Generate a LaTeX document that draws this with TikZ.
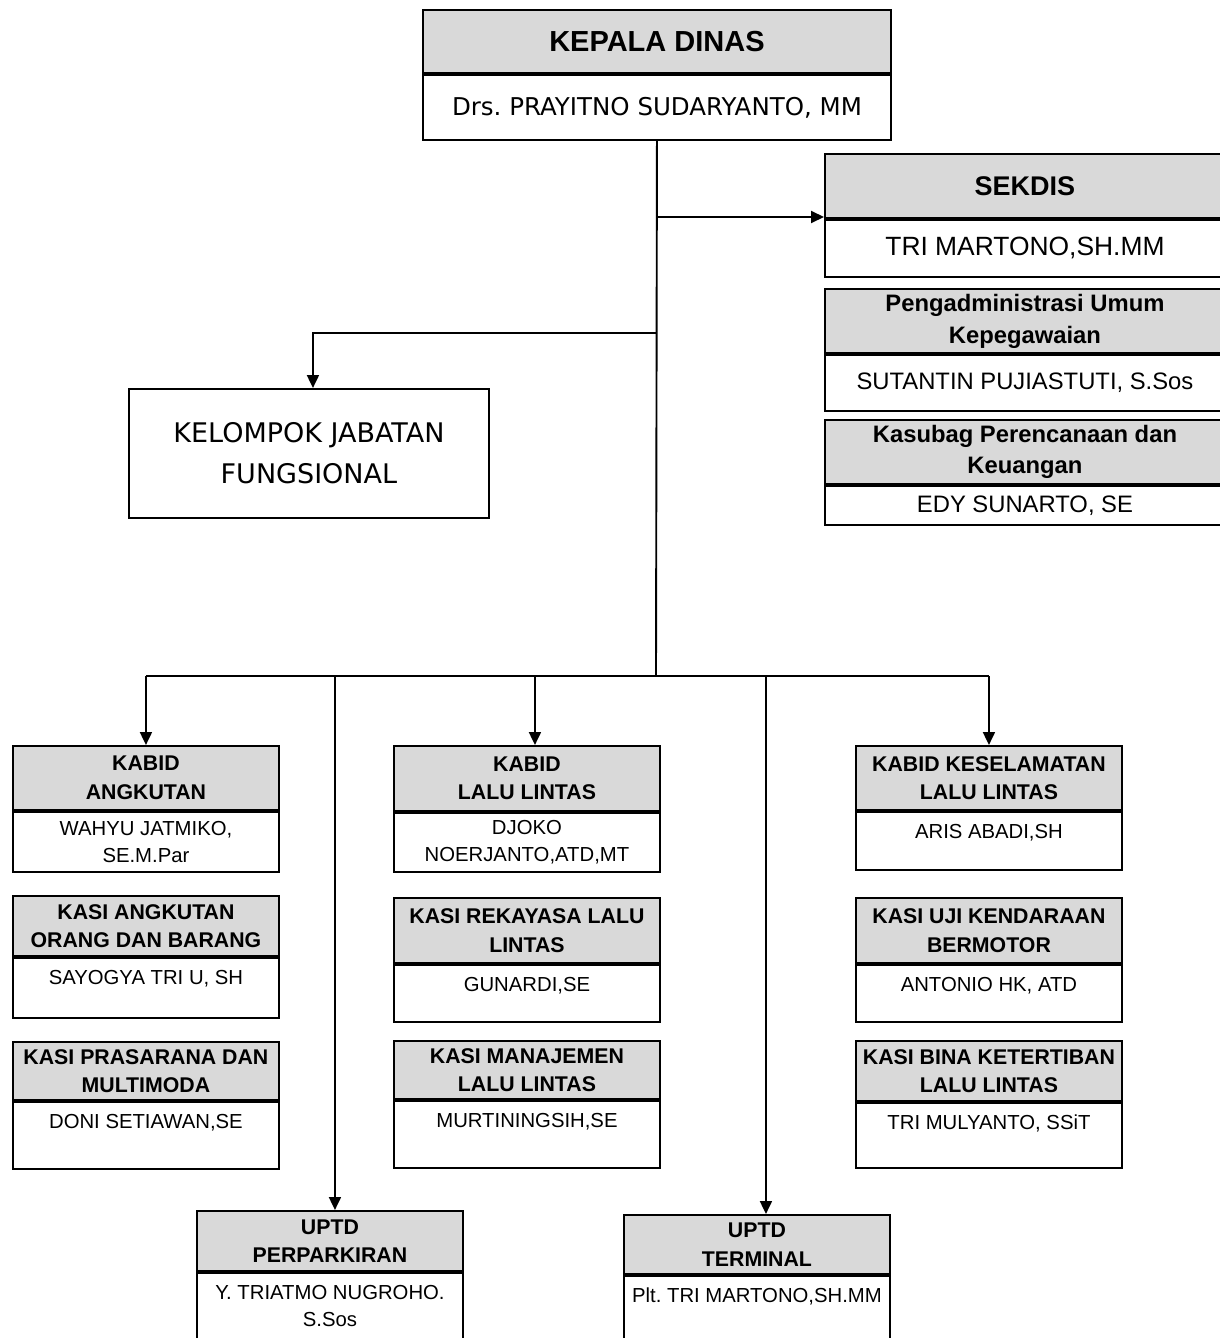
\documentclass[tikz,border=0pt]{standalone}
\usepackage{fontspec}
\setmainfont{Liberation Sans}
\newfontfamily\tahoma{DejaVu Sans}
\usetikzlibrary{arrows.meta}
\frenchspacing

\begin{document}
\begin{tikzpicture}[x=1pt, y=-1pt, line width=1.9pt,
		kop/.style={draw, fill=gray!30, anchor=north west, align=center, inner sep=0pt, minimum width=266pt, font=\bfseries\fontsize{21.3}{28.5}\selectfont},
		nama/.style={draw, fill=white, anchor=north, align=center, inner sep=0pt, minimum width=266pt, font=\fontsize{20.3}{27}\selectfont},
		satu/.style={nama, text height=27pt, text depth=#1},
		panah/.style={-{Triangle[length=13pt, width=12pt]}}]
			\useasboundingbox (0, 0) rectangle (1219, 1338);
			
			\node[kop, minimum width=468pt, minimum height=63pt, font=\bfseries\fontsize{29}{34}\selectfont] (kadis) at (422, 9) {KEPALA DINAS};
			\node[nama, minimum width=468pt, minimum height=65pt, font=\tahoma\fontsize{24.5}{30}\selectfont] (kadis-n) at (kadis.south) {Drs. PRAYITNO SUDARYANTO, MM};
			
			\node[kop, minimum width=400pt, minimum height=64pt, font=\bfseries\fontsize{27}{32}\selectfont] (sekdis) at (824, 153) {SEKDIS};
			\node[nama, minimum width=400pt, minimum height=57pt, font=\fontsize{26.4}{30}\selectfont] (sekdis-n) at (sekdis.south) {TRI MARTONO,SH.MM};
			\node[kop, minimum width=400pt, minimum height=64pt, font=\bfseries\fontsize{23.8}{32}\selectfont] (umum) at (824, 288) {Pengadministrasi Umum\\Kepegawaian};
			\node[nama, minimum width=400pt, minimum height=56pt, font=\fontsize{23.8}{28}\selectfont] (umum-n) at (umum.south) {SUTANTIN PUJIASTUTI, S.Sos};
			\node[kop, minimum width=400pt, minimum height=64pt, font=\bfseries\fontsize{23.8}{31}\selectfont] (keu) at (824, 419) {Kasubag Perencanaan dan\\Keuangan};
			\node[nama, minimum width=400pt, minimum height=39pt, font=\fontsize{23.8}{28}\selectfont] (keu-n) at (keu.south) {EDY SUNARTO, SE};
			
			\node[draw, anchor=north west, align=center, minimum width=360pt, minimum height=129pt, font=\tahoma\fontsize{27}{41}\selectfont] (kjf) at (128, 388) {KELOMPOK JABATAN\\FUNGSIONAL};
			
			\node[kop, minimum height=64pt] (kabA) at (12, 745) {KABID\\ANGKUTAN};
			\node[nama, minimum height=60pt] (kabA-n) at (kabA.south) {WAHYU JATMIKO,\\SE.M.Par};
			\node[kop, minimum height=60pt] (orang) at (12, 895) {KASI ANGKUTAN\\ORANG DAN BARANG};
			\node[satu=33pt] (orang-n) at (orang.south) {SAYOGYA TRI U, SH};
			\node[kop, minimum height=58pt] (prasarana) at (12, 1041) {KASI PRASARANA DAN\\MULTIMODA};
			\node[satu=40pt] (prasarana-n) at (prasarana.south) {DONI SETIAWAN,SE};
			
			\node[kop, minimum height=65pt] (kabL) at (393, 745) {KABID\\LALU LINTAS};
			\node[nama, minimum height=59pt] (kabL-n) at (kabL.south) {DJOKO\\NOERJANTO,ATD,MT};
			\node[kop, minimum height=65pt] (rekayasa) at (393, 897) {KASI REKAYASA LALU\\LINTAS};
			\node[satu=30pt] (rekayasa-n) at (rekayasa.south) {GUNARDI,SE};
			\node[kop, minimum height=58pt] (manajemen) at (393, 1040) {KASI MANAJEMEN\\LALU LINTAS};
			\node[satu=40pt] (manajemen-n) at (manajemen.south) {MURTININGSIH,SE};
			
			\node[kop, minimum height=64pt] (kabK) at (855, 745) {KABID KESELAMATAN\\LALU LINTAS};
			\node[satu=31pt] (kabK-n) at (kabK.south) {ARIS ABADI,SH};
			\node[kop, minimum height=65pt] (uji) at (855, 897) {KASI UJI KENDARAAN\\BERMOTOR};
			\node[satu=30pt] (uji-n) at (uji.south) {ANTONIO HK, ATD};
			\node[kop, minimum height=60pt] (bina) at (855, 1040) {KASI BINA KETERTIBAN\\LALU LINTAS};
			\node[satu=38pt] (bina-n) at (bina.south) {TRI MULYANTO, SSiT};
			
			\node[kop, minimum height=60pt] (uptdP) at (196, 1210) {UPTD\\PERPARKIRAN};
			\node[nama, minimum height=66pt] (uptdP-n) at (uptdP.south) {Y. TRIATMO NUGROHO.\\S.Sos};
			\node[kop, minimum height=59pt] (uptdT) at (623, 1214) {UPTD\\TERMINAL};
			\node[satu=45pt] (uptdT-n) at (uptdT.south) {Plt. TRI MARTONO,SH.MM};
			
			\coordinate (cabang) at (656, 217);
			\coordinate (kiri) at (656, 333);
			\coordinate (bus) at (656, 676);
			\coordinate (tjf) at ([xshift=4pt]kjf.north);
			\coordinate (tL) at ([xshift=8pt]kabL.north);
			\coordinate (tP) at ([xshift=5pt]uptdP.north);
			\coordinate (tT) at ([xshift=9pt]uptdT.north);
			
			\draw (kadis-n.south) -- (bus);
			\draw[panah] (cabang) -- (sekdis.south west |- cabang);
			\draw[panah] (kiri) -| (tjf);
			
			\draw (kabA.north |- bus) -- (kabK.north |- bus);
			\draw[panah] (kabA.north |- bus) -- (kabA.north);
			\draw[panah] (tL |- bus) -- (tL);
			\draw[panah] (kabK.north |- bus) -- (kabK.north);
			\draw[panah] (tP |- bus) -- (tP);
			\draw[panah] (tT |- bus) -- (tT);
		\end{tikzpicture}
\end{document}
